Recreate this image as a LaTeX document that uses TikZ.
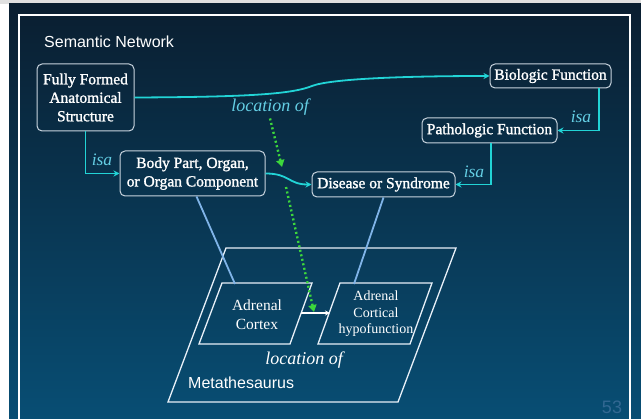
\documentclass[tikz,border=0pt]{standalone}
\usepackage{fontspec}
\setmainfont{Liberation Serif}
\newfontfamily\sansf{Liberation Sans}
\newfontfamily\heavyserif[FakeBold=1.4]{Liberation Serif}
\usetikzlibrary{arrows.meta}

\definecolor{bgtop}{RGB}{10,30,48}
\definecolor{bgbot}{RGB}{8,78,116}
\definecolor{edgec}{RGB}{200,212,222}
\definecolor{cyanlink}{RGB}{34,212,214}
\definecolor{labelc}{RGB}{100,206,228}
\definecolor{greenlink}{RGB}{60,215,60}
\definecolor{bluelink}{RGB}{128,180,232}
\definecolor{pagenum}{RGB}{50,104,146}
\definecolor{planec}{RGB}{232,240,248}

\begin{document}
\begin{tikzpicture}[x=1pt,y=-1pt,
  concept/.style={draw=edgec, line width=1pt, rounded corners=5pt, text=white,
    align=center, inner sep=0pt, font=\heavyserif\fontsize{15.5}{18.5}\selectfont},
  isalink/.style={draw=cyanlink, line width=1.8pt, -{Stealth[length=6pt,width=6pt]}},
  reltag/.style={text=labelc, font=\fontsize{17.5}{20}\selectfont\itshape, inner sep=0pt},
  locline/.style={draw=greenlink, line width=2.4pt, dash pattern=on 2pt off 2.6pt,
    -{Triangle[length=7pt,width=8pt]}},
  umlslink/.style={draw=bluelink, line width=1.8pt},
  plane/.style={draw=planec, line width=1.3pt, line join=miter},
  atomtext/.style={text=white, align=center, inner sep=0pt},
  sanstext/.style={text=white, inner sep=0pt, font=\sansf\fontsize{16}{19}\selectfont}
]
\useasboundingbox (0,0) rectangle (641,419);

% slide background and frame
\fill[white] (0,0) rectangle (641,419);
\fill[black!12] (0,0) rectangle (641,4);
\shade[top color=bgtop, bottom color=bgbot] (9,4) rectangle (641,419);
\draw[white, line width=1.3pt] (19,419) -- (19,15) -- (630,15) -- (630,419);

\node[sanstext, anchor=west] (title) at (44,42) {Semantic Network};

% semantic network concepts
\node[concept, minimum width=97pt, minimum height=67pt] (ffas) at (85.5,97.5)
  {Fully Formed\\Anatomical\\Structure};
\node[concept, minimum width=145pt, minimum height=45pt] (body) at (192.5,173.5)
  {Body Part, Organ,\\or Organ Component};
\node[concept, minimum width=121pt, minimum height=24pt] (bio) at (550.5,76)
  {Biologic Function};
\node[concept, minimum width=135pt, minimum height=25pt] (patho) at (489.5,130.5)
  {Pathologic Function};
\node[concept, minimum width=143pt, minimum height=25pt] (dis) at (383.5,184.5)
  {Disease or Syndrome};

% semantic relations
\draw[isalink] (ffas.east) .. controls (250,97) and (292,94) .. (312,86)
  .. controls (330,79) and (400,76) .. (bio.west);
\draw[isalink] (ffas.south) |- (body.west);
\draw[isalink] ([xshift=48.5pt]bio.south) |- (patho.east);
\draw[isalink] ([xshift=1.5pt]patho.south) |- (dis.east);
\draw[isalink] (body.east) .. controls (290,173.5) and (288,184.5) .. (dis.west);

\node[reltag] (isa1) at (102,160) {isa};
\node[reltag] (isa2) at (581,117) {isa};
\node[reltag] (isa3) at (474,172) {isa};
\node[reltag, font=\fontsize{18}{20}\selectfont\itshape] (locof) at (270,107) {location of};

% Metathesaurus plane
\coordinate (m1) at (226,248);
\coordinate (m2) at (456,248);
\coordinate (m3) at (398,402);
\coordinate (m4) at (168,402);
\draw[plane] (m1) -- (m2) -- (m3) -- (m4) -- cycle;

\coordinate (ac1) at (222,283);
\coordinate (ac2) at (312,283);
\coordinate (ac3) at (290,344);
\coordinate (ac4) at (199,344);
\draw[plane] (ac1) -- (ac2) -- (ac3) -- (ac4) -- cycle;

\coordinate (ah1) at (340,283);
\coordinate (ah2) at (432,283);
\coordinate (ah3) at (410,344);
\coordinate (ah4) at (318,344);
\draw[plane] (ah1) -- (ah2) -- (ah3) -- (ah4) -- cycle;

\node[atomtext, font=\fontsize{15.5}{19}\selectfont] (actext) at (257,315) {Adrenal\\Cortex};
\node[atomtext, font=\fontsize{14}{16.5}\selectfont] (ahtext) at (376,314) {Adrenal\\Cortical\\hypofunction};

\coordinate (acright) at (301,313);
\coordinate (ahleft) at (330,313);
\draw[white, line width=1.3pt, -{Stealth[length=5pt,width=5pt]}] (acright) -- (ahleft);

\node[atomtext, font=\fontsize{18}{20}\selectfont\itshape] (metaloc) at (304,360) {location of};
\node[sanstext, anchor=west] (metaname) at (188,383) {Metathesaurus};

% concept links into the Metathesaurus
\coordinate (actop) at (235,284);
\coordinate (ahtop) at (354,284);
\draw[umlslink] ([xshift=4pt]body.south) -- (actop);
\draw[umlslink] (dis.south) -- (ahtop);

% relation instance
\coordinate (relmid) at (282,167);
\coordinate (relresume) at (286,187);
\coordinate (relmeta) at (314,312);
\draw[locline] ([yshift=-3pt]locof.south) -- (relmid);
\draw[locline] (relresume) -- (relmeta);

\node[text=pagenum, font=\sansf\fontsize{18}{20}\selectfont, inner sep=0pt] (page) at (612,407) {53};
\end{tikzpicture}
\end{document}
